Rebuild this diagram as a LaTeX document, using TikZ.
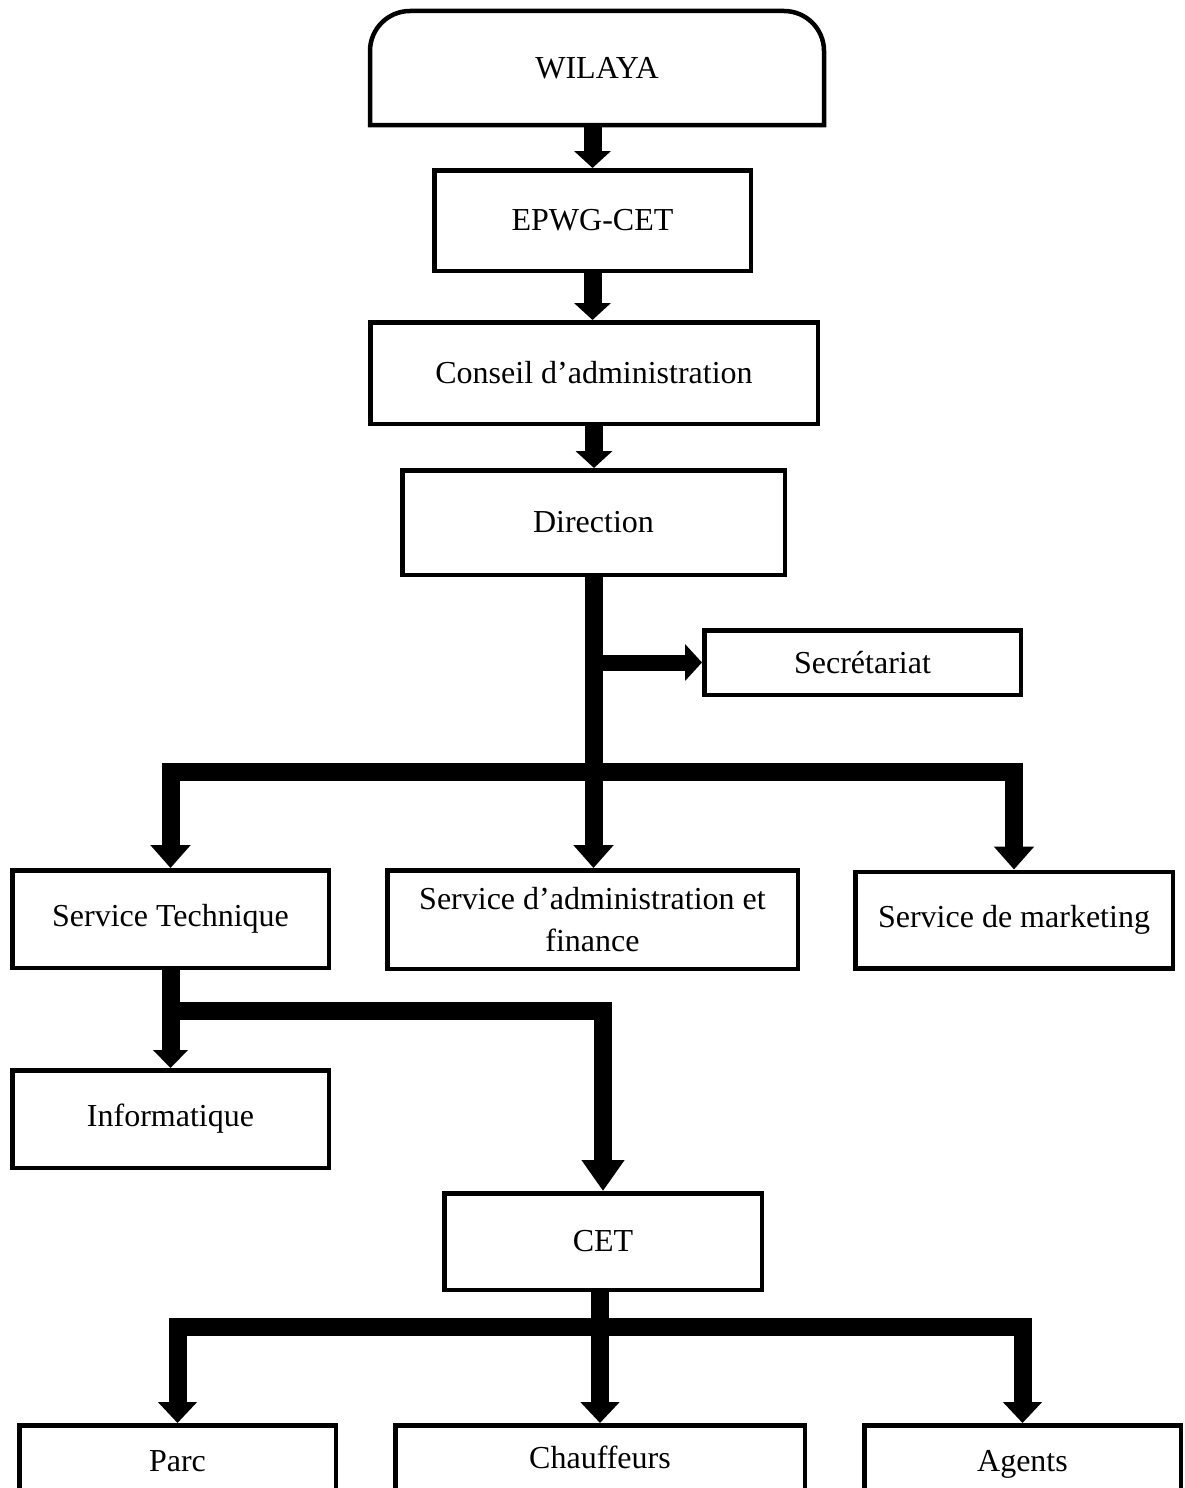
\documentclass[tikz,border=0pt]{standalone}
\usepackage{fontspec}
\setmainfont{Liberation Serif}
\usetikzlibrary{arrows.meta,calc}
\tikzset{
  box/.style={draw, line width=4.5pt, inner sep=0pt, align=center,
    font=\fontsize{32}{42}\selectfont},
  lowbox/.style={box, text height=22pt, text depth=7pt},
  conn/.style={line width=18pt, line join=miter},
  tipM/.style={-{Triangle[width=36pt,length=17pt]}},
  tipL/.style={-{Triangle[width=39pt,length=23pt]}},
  tipI/.style={-{Triangle[width=34pt,length=18pt]}},
  tipC/.style={-{Triangle[width=41pt,length=31pt]}},
  tipB/.style={-{Triangle[width=38pt,length=21pt]}}
}
\begin{document}
\begin{tikzpicture}[x=1pt,y=1pt]
\useasboundingbox (0,0) rectangle (1185,-1488);
\fill[white] (0,0) rectangle (1185,-1488);
\clip (0,0) rectangle (1185,-1488);

% nodes
\node[box, draw=none, minimum width=449.5pt, minimum height=109.5pt] (wil) at (597,-68) {WILAYA};
\draw[line width=4.5pt] (wil.south west) -- ([yshift=-40pt]wil.north west)
  arc[start angle=180, end angle=90, radius=40pt]
  -- ([xshift=-40pt]wil.north east)
  arc[start angle=90, end angle=0, radius=40pt]
  -- (wil.south east) -- cycle;
\node[box, minimum width=316.5pt, minimum height=100.5pt] (epwg) at (592.5,-220.5) {EPWG-CET};
\node[box, minimum width=447.5pt, minimum height=101.5pt] (cons) at (594,-373) {Conseil d’administration};
\node[box, minimum width=382.5pt, minimum height=104.5pt] (dir) at (593.5,-522.5) {Direction};
\node[box, minimum width=316.5pt, minimum height=64.5pt] (sec) at (862.5,-662.5) {Secrétariat};
\node[box, minimum width=316.5pt, minimum height=97.5pt] (st) at (170.5,-919) {Service Technique};
\node[box, minimum width=410.5pt, minimum height=98.5pt] (sa) at (592.5,-919.5) {Service d’administration et\\finance};
\node[box, minimum width=317.5pt, minimum height=96.5pt] (sm) at (1014,-920) {Service de marketing};
\node[box, minimum width=316.5pt, minimum height=97.5pt] (info) at (170.5,-1119) {Informatique};
\node[box, minimum width=317.5pt, minimum height=96.5pt] (cet) at (603,-1241.5) {CET};
\node[lowbox, minimum width=316.5pt, minimum height=77.5pt] (parc) at (177.5,-1464) {Parc};
\node[lowbox, minimum width=409.5pt, minimum height=77.5pt] (chauf) at (600,-1464) {\raisebox{3pt}{Chauffeurs}};
\node[lowbox, minimum width=316.5pt, minimum height=77.5pt] (agents) at (1022.5,-1464) {Agents};

% connectors
\draw[conn, tipM] (epwg.north |- wil.south) -- (epwg.north);
\draw[conn, tipM] (epwg.south) -- (epwg.south |- cons.north);
\draw[conn, tipM] (cons.south) -- (cons.south |- dir.north);

\draw[line width=16pt, tipM] (dir.south |- sec.west) -- (sec.west);
\coordinate (jb) at (593.5,-772);
\draw[conn, tipL] (dir.south) -- (dir.south |- sa.north);
\draw[conn, tipL] (jb) -| (st.north);
\draw[conn, tipL] (jb) -| (sm.north);

\coordinate (jc) at (170.5,-1011);
\draw[conn, tipI] (st.south) -- (st.south |- info.north);
\draw[conn, tipC] (jc) -| (cet.north);

\coordinate (jd) at (600,-1327);
\draw[conn, tipB] (chauf.north |- cet.south) -- (chauf.north);
\draw[conn, tipB] (jd) -| (parc.north);
\draw[conn, tipB] (jd) -| (agents.north);
\end{tikzpicture}
\end{document}
